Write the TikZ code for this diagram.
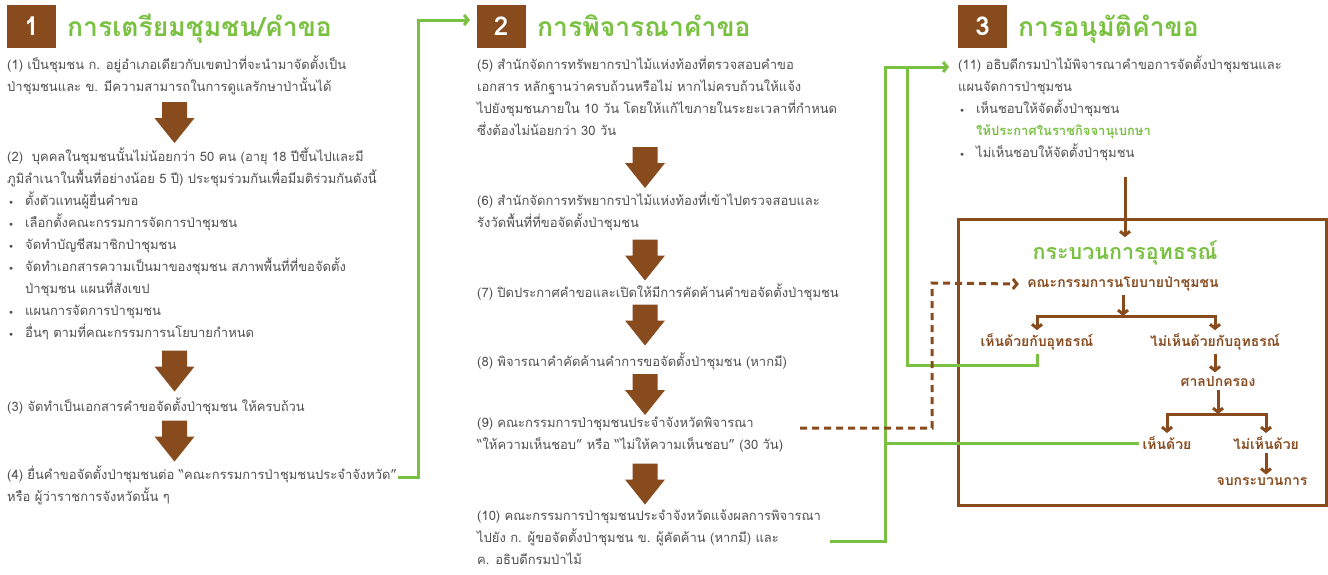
\documentclass[tikz,border=0pt]{standalone}
\usepackage{fontspec}
\setmainfont[Script=Thai]{Loma}
\usepackage{tikz}
\usetikzlibrary{positioning,arrows.meta}
\definecolor{forestbrown}{RGB}{135,75,30}
\definecolor{forestgreen}{RGB}{122,193,66}
\definecolor{bodygray}{RGB}{80,80,80}
\newcommand{\itembul}{\makebox[18pt][l]{\hspace{2pt}\raisebox{1pt}{\scriptsize$\bullet$}}}
\newcommand{\itemgap}{\hspace*{18pt}}
\tikzset{%
  step number/.style={
    fill=forestbrown,
    text=white,
    font=\bfseries\fontsize{26}{26}\selectfont,
    minimum width=49pt,
    minimum height=43pt,
    inner sep=0pt
  },
  step title/.style={
    text=forestgreen,
    font=\bfseries\fontsize{26.5}{27}\selectfont,
    anchor=base west,
    inner sep=0pt
  },
  step text/.style={
    text=bodygray,
    font=\fontsize{13}{22}\selectfont,
    anchor=north west,
    align=left,
    inner sep=0pt,
    execute at begin node=\strut
  },
  pics/down arrow/.style={
    code={
      \fill [forestbrown] (-12.5,-20.5) -- (12.5,-20.5) -- (12.5,-4.5) -- (20,-4.5)
        -- (0,20.5) -- (-20,-4.5) -- (-12.5,-4.5) -- cycle;
    }
  },
  tree label/.style={
    text=forestbrown,
    font=\bfseries\fontsize{14}{16}\selectfont
  },
  tree arrow/.style={
    draw=forestbrown,
    line width=3pt,
    -{Straight Barb[length=4pt,width=10pt]}
  },
  green line/.style={
    draw=forestgreen,
    line width=3pt
  },
  green arrow/.style={
    green line,
    -{Straight Barb[length=4pt,width=10pt]}
  },
  dotted link/.style={
    draw=forestbrown,
    line width=3pt,
    dash pattern=on 7pt off 5pt,
    -{Straight Barb[length=4pt,width=10pt]}
  },
}

\begin{document}
\begin{tikzpicture}[x=1pt, y=-1pt]
        \useasboundingbox (0,0) rectangle (1328,574);

        %%%%%%%%%%%%%%%%%%%%%%%%%%%%%%%%%%%%%%%%%%%%
        % Step headers
        %%%%%%%%%%%%%%%%%%%%%%%%%%%%%%%%%%%%%%%%%%%%
        \foreach \n/\x in {1/31.5, 2/501, 3/982.5}
            \node [step number] (head-\n) at (\x,26.5) {\n};

        \node [step title] (title-1) at (67,36) {การเตรียมชุมชน/คำขอ};
        \node [step title] (title-2) at (537,36) {การพิจารณาคำขอ};
        \node [step title] (title-3) at (1018,36) {การอนุมัติคำขอ};

        %%%%%%%%%%%%%%%%%%%%%%%%%%%%%%%%%%%%%%%%%%%%
        % Step 1
        %%%%%%%%%%%%%%%%%%%%%%%%%%%%%%%%%%%%%%%%%%%%
        \node [step text] (s1) at (7,56) {(1) เป็นชุมชน ก. อยู่อำเภอเดียวกับเขตป่าที่จะนำมาจัดตั้งเป็น\\ป่าชุมชนและ ข. มีความสามารถในการดูแลรักษาป่านั้นได้};
        \node [step text] (s2) at (7,148) {(2)\ \ บุคคลในชุมชนนั้นไม่น้อยกว่า 50 คน (อายุ 18 ปีขึ้นไปและมี\\ภูมิลำเนาในพื้นที่อย่างน้อย 5 ปี) ประชุมร่วมกันเพื่อมีมติร่วมกันดังนี้\\\itembul ตั้งตัวแทนผู้ยื่นคำขอ\\\itembul เลือกตั้งคณะกรรมการจัดการป่าชุมชน\\\itembul จัดทำบัญชีสมาชิกป่าชุมชน\\\itembul จัดทำเอกสารความเป็นมาของชุมชน สภาพพื้นที่ที่ขอจัดตั้ง\\\itemgap ป่าชุมชน แผนที่สังเขป\\\itembul แผนการจัดการป่าชุมชน\\\itembul อื่นๆ ตามที่คณะกรรมการนโยบายกำหนด};
        \node [step text] (s3) at (7,396) {(3) จัดทำเป็นเอกสารคำขอจัดตั้งป่าชุมชน ให้ครบถ้วน};
        \node [step text] (s4) at (7,466) {(4) ยื่นคำขอจัดตั้งป่าชุมชนต่อ “คณะกรรมการป่าชุมชนประจำจังหวัด”\\หรือ ผู้ว่าราชการจังหวัดนั้น ๆ};

        \foreach \y [count=\i] in {122.5, 371, 441}
            \pic (arrow1-\i) at (174.5,\y) {down arrow};

        %%%%%%%%%%%%%%%%%%%%%%%%%%%%%%%%%%%%%%%%%%%%
        % Step 2
        %%%%%%%%%%%%%%%%%%%%%%%%%%%%%%%%%%%%%%%%%%%%
        \node [step text] (s5) at (477,56) {(5) สำนักจัดการทรัพยากรป่าไม้แห่งท้องที่ตรวจสอบคำขอ\\เอกสาร หลักฐานว่าครบถ้วนหรือไม่ หากไม่ครบถ้วนให้แจ้ง\\ไปยังชุมชนภายใน 10 วัน โดยให้แก้ไขภายในระยะเวลาที่กำหนด\\ซึ่งต้องไม่น้อยกว่า 30 วัน};
        \node [step text] (s6) at (477,192) {(6) สำนักจัดการทรัพยากรป่าไม้แห่งท้องที่เข้าไปตรวจสอบและ\\รังวัดพื้นที่ที่ขอจัดตั้งป่าชุมชน};
        \node [step text] (s7) at (477,282) {(7) ปิดประกาศคำขอและเปิดให้มีการคัดค้านคำขอจัดตั้งป่าชุมชน};
        \node [step text] (s8) at (477,351) {(8) พิจารณาคำคัดค้านคำการขอจัดตั้งป่าชุมชน (หากมี)};
        \node [step text] (s9) at (477,417) {(9) คณะกรรมการป่าชุมชนประจำจังหวัดพิจารณา\\“ให้ความเห็นชอบ” หรือ “ไม่ให้ความเห็นชอบ” (30 วัน)};
        \node [step text] (s10) at (477,509) {(10) คณะกรรมการป่าชุมชนประจำจังหวัดแจ้งผลการพิจารณา\\ไปยัง ก. ผู้ขอจัดตั้งป่าชุมชน ข. ผู้คัดค้าน (หากมี) และ\\ค. อธิบดีกรมป่าไม้};

        \foreach \y [count=\i] in {167.5, 260, 325, 394.5, 484}
            \pic (arrow2-\i) at (645,\y) {down arrow};

        %%%%%%%%%%%%%%%%%%%%%%%%%%%%%%%%%%%%%%%%%%%%
        % Step 3
        %%%%%%%%%%%%%%%%%%%%%%%%%%%%%%%%%%%%%%%%%%%%
        \node [step text] (s11) at (958,56) {(11) อธิบดีกรมป่าไม้พิจารณาคำขอการจัดตั้งป่าชุมชนและ\\แผนจัดการป่าชุมชน\\\itembul เห็นชอบให้จัดตั้งป่าชุมชน\\\itemgap{\color{forestgreen}\bfseries ให้ประกาศในราชกิจจานุเบกษา}\\\itembul ไม่เห็นชอบให้จัดตั้งป่าชุมชน};

        % Appeal box
        \node [draw=forestbrown, line width=3pt, minimum width=368pt, minimum height=286pt] (appeal-box) at (1142,362) {};
        \node [text=forestgreen, font=\bfseries\fontsize{21.5}{22}\selectfont] (appeal) at (1125,253) {กระบวนการอุทธรณ์};

        \node [tree label] (policy) at (1123,284) {คณะกรรมการนโยบายป่าชุมชน};
        \node [tree label] (agree-1) at (1037,342) {เห็นด้วยกับอุทธรณ์};
        \node [tree label] (disagree-1) at (1215,342) {ไม่เห็นด้วยกับอุทธรณ์};
        \node [tree label] (court) at (1218,381) {ศาลปกครอง};
        \node [tree label] (agree-2) at (1167,443) {เห็นด้วย};
        \node [tree label] (disagree-2) at (1266,443) {ไม่เห็นด้วย};
        \node [tree label] (finish) at (1262,482) {จบกระบวนการ};

        \coordinate (fork-1) at (1121,316);
        \coordinate (fork-2) at (1217,414);

        %%%%%%%%%%%%%%%%%%%%%%%%%%%%%%%%%%%%%%%%%%%%
        % Connecting
        %%%%%%%%%%%%%%%%%%%%%%%%%%%%%%%%%%%%%%%%%%%%
        \coordinate (out-4) at (398,477);
        \coordinate (in-2) at (470,20);
        \coordinate (out-9) at (800,428);
        \coordinate (out-10) at (830,541);
        \coordinate (riser) at (885,67);
        \coordinate (join-11) at (907,67);
        \coordinate (in-11) at (949,67);
        \coordinate (out-11) at (1125,177);

        \draw [green arrow] (out-4) -- ++(20,0) |- (in-2);
        \draw [green arrow] (out-10) -| (riser) -- (in-11);
        \draw [green line] (agree-1.south) -- ++(0,12) -| (join-11);
        \draw [green line] (agree-2.west) -- (agree-2.west -| riser);
        \draw [dotted link] (out-9) -| (932,283) -- ([xshift=-5pt]policy.west);

        \draw [tree arrow] (out-11) -- (appeal.north);
        \draw [tree arrow] (policy.south) -- (policy.south |- fork-1);
        \draw [tree arrow, {Straight Barb[length=4pt,width=10pt]}-{Straight Barb[length=4pt,width=10pt]}] (agree-1.north) |- (fork-1) -| (disagree-1.north);
        \draw [tree arrow] (disagree-1.south) -- (disagree-1.south |- court.north);
        \draw [tree arrow] (court.south) -- (court.south |- fork-2);
        \draw [tree arrow, {Straight Barb[length=4pt,width=10pt]}-{Straight Barb[length=4pt,width=10pt]}] (agree-2.north) |- (fork-2) -| (disagree-2.north);
        \draw [tree arrow] (disagree-2.south) -- (disagree-2.south |- finish.north);
\end{tikzpicture}
\end{document}
